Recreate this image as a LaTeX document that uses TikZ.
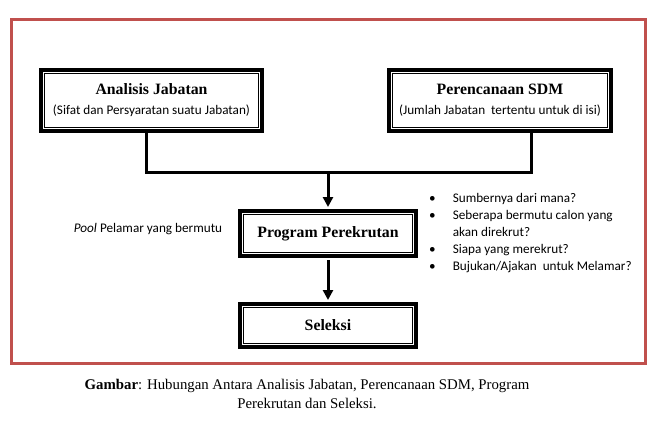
\documentclass[tikz,border=0pt]{standalone}
\usepackage{fontspec}
\setmainfont{Liberation Serif}
\newfontfamily\calib{Carlito}
\usetikzlibrary{arrows.meta}
\definecolor{framered}{RGB}{192,80,77}
\newcommand{\titlefont}{\fontsize{15.8}{18}\selectfont\bfseries}
\newcommand{\subfont}{\calib\fontsize{13.2}{16}\selectfont}

\begin{document}
\begin{tikzpicture}[
        x=1pt, y=-1pt,
        box/.style={draw, line width=4pt, inner sep=0pt, align=center},
        link/.style={draw, line width=3pt},
        arr/.style={link, -{Triangle[width=10pt,length=10pt]}},
    ]
    \useasboundingbox (0,0) rectangle (659,421);
    \draw[framered, line width=3pt] (11.5,19.5) rectangle (645,363);

    \node[box, minimum width=221pt, minimum height=61pt] (analisis) at (151.5,100.5)
        {\titlefont Analisis Jabatan\\[8pt]\subfont (Sifat dan Persyaratan suatu Jabatan)};
    \node[box, minimum width=222pt, minimum height=61pt] (sdm) at (500,100.5)
        {\titlefont Perencanaan SDM\\[8pt]\subfont (Jumlah Jabatan\ \ tertentu untuk di isi)};
    \node[box, minimum width=176pt, minimum height=45pt] (program) at (328,233.5)
        {\titlefont Program Perekrutan};
    \node[box, minimum width=176pt, minimum height=43pt] (seleksi) at (328,325.5)
        {\titlefont Seleksi};

    % inner thin lines of the boxes
    \foreach \n in {analisis,sdm,program,seleksi}
        \draw[line width=1pt] ([shift={(5.5pt,-5.5pt)}]\n.north west) rectangle ([shift={(-5.5pt,5.5pt)}]\n.south east);

    \coordinate (join) at (328,172);
    \draw[link] ([xshift=-5pt]analisis.south) |- (join);
    \draw[link] ([xshift=31pt]sdm.south) |- (join);
    \draw[arr] (join) -- ([yshift=2pt]program.north);
    \draw[arr] ([yshift=-2pt]program.south) -- ([yshift=2pt]seleksi.north);

    \node[font=\subfont] (pool) at (148,229) {\textit{Pool} Pelamar yang bermutu};

    \node[anchor=north west, inner sep=0pt, font=\calib\fontsize{13.2}{17}\selectfont] (tanya) at (429,190)
        {\begin{tabular}{@{}l@{\hspace{17pt}}l@{}}
            \textbullet & Sumbernya dari mana?\\
            \textbullet & Seberapa bermutu calon yang\\
                        & akan direkrut?\\
            \textbullet & Siapa yang merekrut?\\
            \textbullet & Bujukan/Ajakan\ \ untuk Melamar?
        \end{tabular}};

    \node[align=center, font=\fontsize{14.8}{19.5}\selectfont] (caption) at (307,394)
        {\textbf{Gambar}: Hubungan Antara Analisis Jabatan, Perencanaan SDM, Program\\Perekrutan dan Seleksi.};
\end{tikzpicture}
\end{document}
